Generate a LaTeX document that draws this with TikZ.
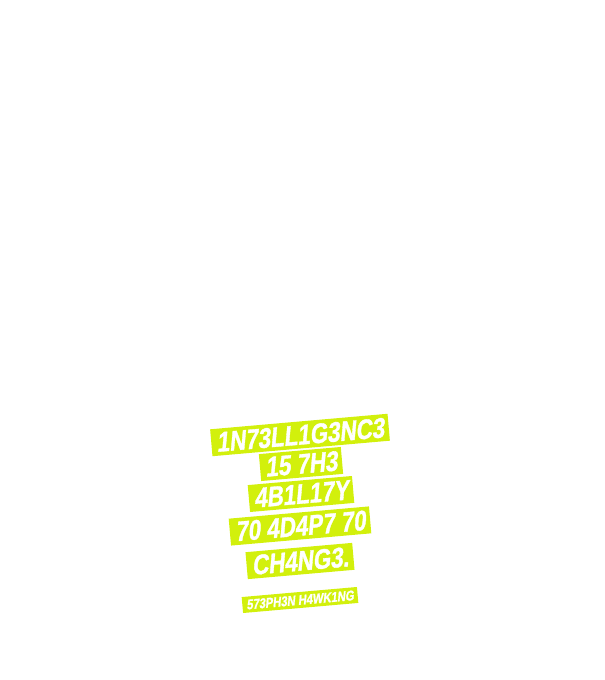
\documentclass[tikz,border=0pt]{standalone}
\usepackage{fontspec}
\setmainfont{Liberation Sans}
\newfontfamily\bannerfont[FakeSlant=0.18,FakeStretch=0.8,FakeBold=1.2]{Liberation Sans}
\usetikzlibrary{positioning}
\definecolor{lime}{HTML}{D2F00C}
\tikzset{
  banner/.style={fill=lime, text=white, rotate=5, font=\bannerfont\bfseries\fontsize{28}{28}\selectfont,
    inner xsep=5pt, inner ysep=2pt, minimum height=27pt},
  smallbanner/.style={banner, font=\bannerfont\bfseries\fontsize{14}{14}\selectfont, minimum height=16pt, inner xsep=4pt}
}
\begin{document}
\begin{tikzpicture}[x=1pt,y=1pt]
\useasboundingbox (0,0) rectangle (605,680);
\node[banner] (l1) at (300,245) {1N73LL1G3NC3};
\node[banner] (l2) at (301,216) {15 7H3};
\node[banner] (l3) at (301,186) {4B1L17Y};
\node[banner] (l4) at (300,154) {70 4D4P7 70};
\node[banner] (l5) at (300,119) {CH4NG3.};
\node[smallbanner] (sig) at (300,80) {573PH3N H4WK1NG};
\end{tikzpicture}
\end{document}
